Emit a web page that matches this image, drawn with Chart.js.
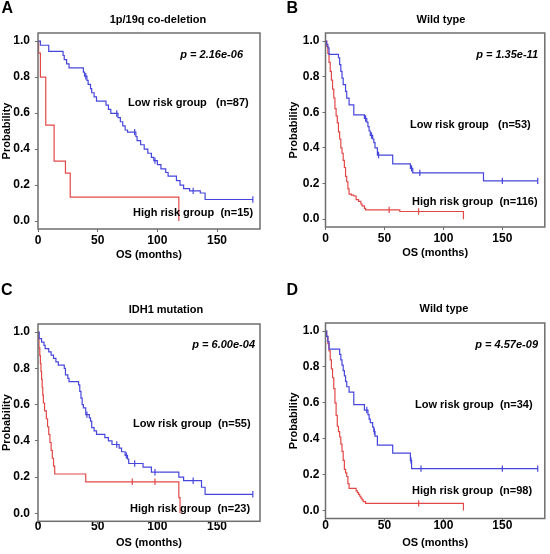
<!DOCTYPE html>
<html>
<head>
<meta charset="utf-8">
<script src="https://cdn.jsdelivr.net/npm/chart.js@4.4.1/dist/chart.umd.min.js"></script>
<style>
  body { margin: 0; background: #fff; font-family: Arial, "Liberation Sans", sans-serif; }
  #wrap { position: relative; width: 550px; height: 554px; overflow: hidden; background: #fff; }
  canvas { position: absolute; }
  .letter { position: absolute; font-weight: bold; font-size: 16px; line-height: 1; color: #000; }
  .title { position: absolute; font-weight: bold; font-size: 11px; line-height: 1; color: #000;
           transform: translate(-50%, -50%); white-space: nowrap; }
</style>
</head>
<body>
<div id="wrap">
  <canvas id="panel0" width="275" height="277" style="left:0;top:0"></canvas>
  <canvas id="panel1" width="275" height="277" style="left:275px;top:0"></canvas>
  <canvas id="panel2" width="275" height="277" style="left:0;top:277px"></canvas>
  <canvas id="panel3" width="275" height="277" style="left:275px;top:277px"></canvas>
</div>
<script>
// text
var panelLetters = ['A', 'B', 'C', 'D'];
var panelTitles = ['1p/19q co-deletion', 'Wild type', 'IDH1 mutation', 'Wild type'];
var pValues = ['p = 2.16e-06', 'p = 1.35e-11', 'p = 6.00e-04', 'p = 4.57e-09'];
var lowLabels = ['Low risk group   (n=87)', 'Low risk group   (n=53)', 'Low risk group  (n=55)', 'Low risk group  (n=34)'];
var highLabels = ['High risk group  (n=15)', 'High risk group  (n=116)', 'High risk group  (n=23)', 'High risk group  (n=98)'];
var xTickValues = [0, 50, 100, 150];
var yTickValues = [0, 0.2, 0.4, 0.6, 0.8, 1.0];

// A: 1p/19q co-deletion
var aLowTime = [0, 2, 9, 21, 22, 24, 26, 38, 39, 41, 42, 44, 45, 47, 49, 57, 59, 61, 67, 69, 71, 73, 75, 82, 83, 86, 89, 92, 95, 97, 100, 103, 107, 109, 116, 119, 122, 127, 136, 140, 180];
var aLowSurv = [1.0, 0.977, 0.943, 0.92, 0.897, 0.874, 0.851, 0.828, 0.805, 0.782, 0.759, 0.736, 0.713, 0.69, 0.667, 0.644, 0.621, 0.598, 0.575, 0.552, 0.529, 0.506, 0.494, 0.47, 0.447, 0.424, 0.40, 0.377, 0.354, 0.336, 0.314, 0.29, 0.27, 0.25, 0.225, 0.2, 0.18, 0.168, 0.156, 0.12, 0.12];
var aLowCensor = [40, 66, 81, 98, 130, 180];
var aHighTime = [0, 0.5, 2, 6.5, 13.5, 23, 27, 118];
var aHighSurv = [1.0, 0.933, 0.8, 0.533, 0.333, 0.267, 0.133, 0];
var aHighCensor = [];

// B: wild type
var bLowTime = [0, 1, 2, 3, 11, 12, 13, 14, 15, 17, 18, 20, 24, 33, 35, 36, 37, 38, 40, 41, 42, 44, 57, 72, 74, 134, 180];
var bLowSurv = [1.0, 0.981, 0.962, 0.925, 0.906, 0.868, 0.83, 0.792, 0.755, 0.717, 0.679, 0.642, 0.585, 0.565, 0.545, 0.52, 0.495, 0.47, 0.45, 0.43, 0.40, 0.36, 0.31, 0.285, 0.26, 0.215, 0.215];
var bLowCensor = [34, 39, 45, 73, 80, 150, 180];
var bHighTime = [0, 1, 2, 3, 4, 5, 6, 7, 8, 9, 10, 11, 12, 13, 14, 15, 16, 17, 18, 19, 20, 22, 24, 26, 28, 30, 31, 33, 34, 63, 117];
var bHighSurv = [1.0, 0.97, 0.93, 0.88, 0.83, 0.78, 0.73, 0.68, 0.62, 0.58, 0.54, 0.49, 0.45, 0.40, 0.37, 0.33, 0.29, 0.24, 0.21, 0.17, 0.14, 0.135, 0.13, 0.11, 0.10, 0.085, 0.075, 0.06, 0.052, 0.043, 0];
var bHighCensor = [54, 79];

// C: IDH1 mutation
var cLowTime = [0, 1, 3, 5, 6, 9, 11, 13, 15, 17, 22, 23, 25, 26, 34, 35, 36, 37, 38, 40, 43, 44, 45, 47, 49, 56, 59, 62, 68, 70, 73, 75, 76, 88, 95, 118, 122, 137, 140, 180];
var cLowSurv = [1.0, 0.964, 0.945, 0.927, 0.909, 0.891, 0.873, 0.855, 0.836, 0.818, 0.8, 0.764, 0.745, 0.727, 0.709, 0.673, 0.636, 0.6, 0.582, 0.545, 0.527, 0.509, 0.473, 0.455, 0.436, 0.418, 0.4, 0.38, 0.36, 0.34, 0.32, 0.30, 0.275, 0.255, 0.227, 0.2, 0.18, 0.144, 0.105, 0.105];
var cLowCensor = [41, 66, 74, 81, 98, 130, 180];
var cHighTime = [0, 0.5, 0.8, 1.5, 2, 2.5, 3, 3.5, 4, 4.5, 5.5, 7, 8, 9, 10, 11, 12, 13, 14, 40, 118, 119];
var cHighSurv = [1.0, 0.957, 0.913, 0.87, 0.826, 0.783, 0.739, 0.696, 0.652, 0.609, 0.565, 0.522, 0.478, 0.435, 0.391, 0.348, 0.304, 0.261, 0.217, 0.174, 0.087, 0];
var cHighCensor = [79, 98];

// D: wild type
var dLowTime = [0, 1, 2, 3, 12, 13, 14, 15, 16, 17, 18, 20, 24, 33, 36, 37, 38, 40, 41, 42, 44, 57, 72, 73, 180];
var dLowSurv = [1.0, 0.97, 0.941, 0.9, 0.87, 0.84, 0.81, 0.78, 0.75, 0.72, 0.69, 0.66, 0.59, 0.56, 0.535, 0.51, 0.49, 0.465, 0.44, 0.415, 0.365, 0.32, 0.28, 0.234, 0.234];
var dLowCensor = [35, 41.5, 72.5, 81, 150, 180];
var dHighTime = [0, 1, 2, 3, 4, 5, 6, 7, 8, 9, 10, 11, 12, 13, 14, 15, 16, 17, 18, 19, 20, 26, 27, 28, 29, 30, 31, 32, 34, 117];
var dHighSurv = [1.0, 0.97, 0.93, 0.89, 0.84, 0.79, 0.74, 0.68, 0.6, 0.53, 0.47, 0.44, 0.41, 0.37, 0.33, 0.28, 0.23, 0.21, 0.19, 0.15, 0.124, 0.11, 0.10, 0.09, 0.08, 0.07, 0.06, 0.05, 0.04, 0];
var dHighCensor = [79];

var blue = '#4646dc';
var red = '#e24848';
var fam = 'Arial, "Liberation Sans", sans-serif';

// where things sit inside each 275x277 canvas
var panelBoxes = [
  { pos: [0, 0], pad: {left: 0, top: 33, right: 15, bottom: 11}, yWidth: 38, xHeight: 37, yTickPad: 5, xTickPad: 1,
    letter: [1.5, 0], title: [158, 19], pText: [243, 55], low: [128, 103], high: [133, 213] },
  { pos: [275, 0], pad: {left: 12.5, top: 33, right: 1, bottom: 13}, yWidth: 38, xHeight: 37, yTickPad: 3, xTickPad: 1.5,
    letter: [11.5, 0], title: [166, 19], pText: [263, 55], low: [135, 125], high: [137, 202] },
  { pos: [0, 277], pad: {left: 0, top: 47, right: 15, bottom: 0.7}, yWidth: 38, xHeight: 32, yTickPad: 5, xTickPad: -4.5,
    letter: [1, 4.7], title: [166, 32.3], pText: [255, 68], low: [133, 147], high: [130, 232] },
  { pos: [275, 277], pad: {left: 12.5, top: 46, right: 1, bottom: 0}, yWidth: 38, xHeight: 35.5, yTickPad: 3, xTickPad: -2.6,
    letter: [11.5, 4.7], title: [169, 30.7], pText: [263, 68], low: [140, 128], high: [137, 214] }
];

function survAt(times, surv, t) {
  var s = surv[0];
  for (var i = 0; i < times.length; i++) {
    if (times[i] <= t) s = surv[i];
  }
  return s;
}

function curve(times, surv) {
  return times.map(function(t, i) { return {x: t, y: surv[i]}; });
}

function censorPoints(cens, times, surv) {
  return cens.map(function(t) { return {x: t, y: survAt(times, surv, t)}; });
}

// full grey frame round the plot
var boxPlugin = {
  id: 'frame',
  afterDatasetsDraw: function(chart) {
    var a = chart.chartArea, c = chart.ctx;
    c.save();
    c.strokeStyle = '#6e6e6e';
    c.lineWidth = 1.5;
    c.strokeRect(a.left, a.top, a.right - a.left, a.bottom - a.top);
    c.restore();
  }
};

// p value and group labels
var labelPlugin = {
  id: 'groupLabels',
  afterDatasetsDraw: function(chart, args, opts) {
    var c = chart.ctx, b = opts.box;
    c.save();
    c.fillStyle = '#000';
    c.textBaseline = 'middle';
    c.font = 'italic bold 11px ' + fam;
    c.textAlign = 'right';
    c.fillText(opts.p, b.pText[0], b.pText[1]);
    c.font = 'bold 11px ' + fam;
    c.textAlign = 'left';
    c.fillText(opts.low, b.low[0], b.low[1]);
    c.fillText(opts.high, b.high[0], b.high[1]);
    c.restore();
  }
};

function lineSet(times, surv, color) {
  return {
    data: curve(times, surv),
    borderColor: color,
    borderWidth: 1.2,
    stepped: 'before',
    pointRadius: 0,
    fill: false
  };
}

function censorSet(cens, times, surv, color) {
  return {
    data: censorPoints(cens, times, surv),
    showLine: false,
    borderColor: color,
    backgroundColor: color,
    pointStyle: 'line',
    rotation: 90,
    pointRadius: 3.2,
    pointBorderWidth: 1.2
  };
}

function makePanel(i, low, high) {
  var box = panelBoxes[i];
  var wrap = document.getElementById('wrap');

  var letter = document.createElement('div');
  letter.className = 'letter';
  letter.textContent = panelLetters[i];
  letter.style.left = (box.pos[0] + box.letter[0]) + 'px';
  letter.style.top = (box.pos[1] + box.letter[1]) + 'px';
  wrap.appendChild(letter);

  var title = document.createElement('div');
  title.className = 'title';
  title.textContent = panelTitles[i];
  title.style.left = (box.pos[0] + box.title[0]) + 'px';
  title.style.top = (box.pos[1] + box.title[1]) + 'px';
  wrap.appendChild(title);

  var ctx = document.getElementById('panel' + i);
  new Chart(ctx, {
    type: 'line',
    data: {
      datasets: [
        lineSet(low[0], low[1], blue),
        lineSet(high[0], high[1], red),
        censorSet(low[2], low[0], low[1], blue),
        censorSet(high[2], high[0], high[1], red)
      ]
    },
    options: {
      responsive: false,
      animation: false,
      layout: { padding: box.pad },
      plugins: {
        legend: { display: false },
        tooltip: { enabled: false },
        groupLabels: { box: box, p: pValues[i], low: lowLabels[i], high: highLabels[i] }
      },
      scales: {
        x: {
          type: 'linear',
          min: 0,
          max: 186,
          afterBuildTicks: function(s) { s.ticks = xTickValues.map(function(v) { return {value: v}; }); },
          afterFit: function(s) { s.height = box.xHeight; },
          ticks: { font: {family: fam, size: 12, weight: 'bold'}, color: '#000', padding: box.xTickPad, maxRotation: 0 },
          grid: { drawOnChartArea: false, tickLength: 3, color: '#6e6e6e' },
          border: { display: false },
          title: { display: true, text: 'OS (months)', color: '#000',
                   font: {family: fam, size: 11, weight: 'bold'}, padding: {top: 0, bottom: 4} }
        },
        y: {
          type: 'linear',
          min: -0.044,
          max: 1.045,
          afterBuildTicks: function(s) { s.ticks = yTickValues.map(function(v) { return {value: v}; }); },
          afterFit: function(s) { s.width = box.yWidth; },
          ticks: { font: {family: fam, size: 12, weight: 'bold'}, color: '#000', padding: box.yTickPad,
                   callback: function(v) { return v.toFixed(1); } },
          grid: { drawOnChartArea: false, tickLength: 3, color: '#6e6e6e' },
          border: { display: false },
          title: { display: true, text: 'Probability', color: '#000',
                   font: {family: fam, size: 11, weight: 'bold'}, padding: {top: 0, bottom: 0} }
        }
      }
    },
    plugins: [boxPlugin, labelPlugin]
  });
}

makePanel(0, [aLowTime, aLowSurv, aLowCensor], [aHighTime, aHighSurv, aHighCensor]);
makePanel(1, [bLowTime, bLowSurv, bLowCensor], [bHighTime, bHighSurv, bHighCensor]);
makePanel(2, [cLowTime, cLowSurv, cLowCensor], [cHighTime, cHighSurv, cHighCensor]);
makePanel(3, [dLowTime, dLowSurv, dLowCensor], [dHighTime, dHighSurv, dHighCensor]);
</script>
</body>
</html>
